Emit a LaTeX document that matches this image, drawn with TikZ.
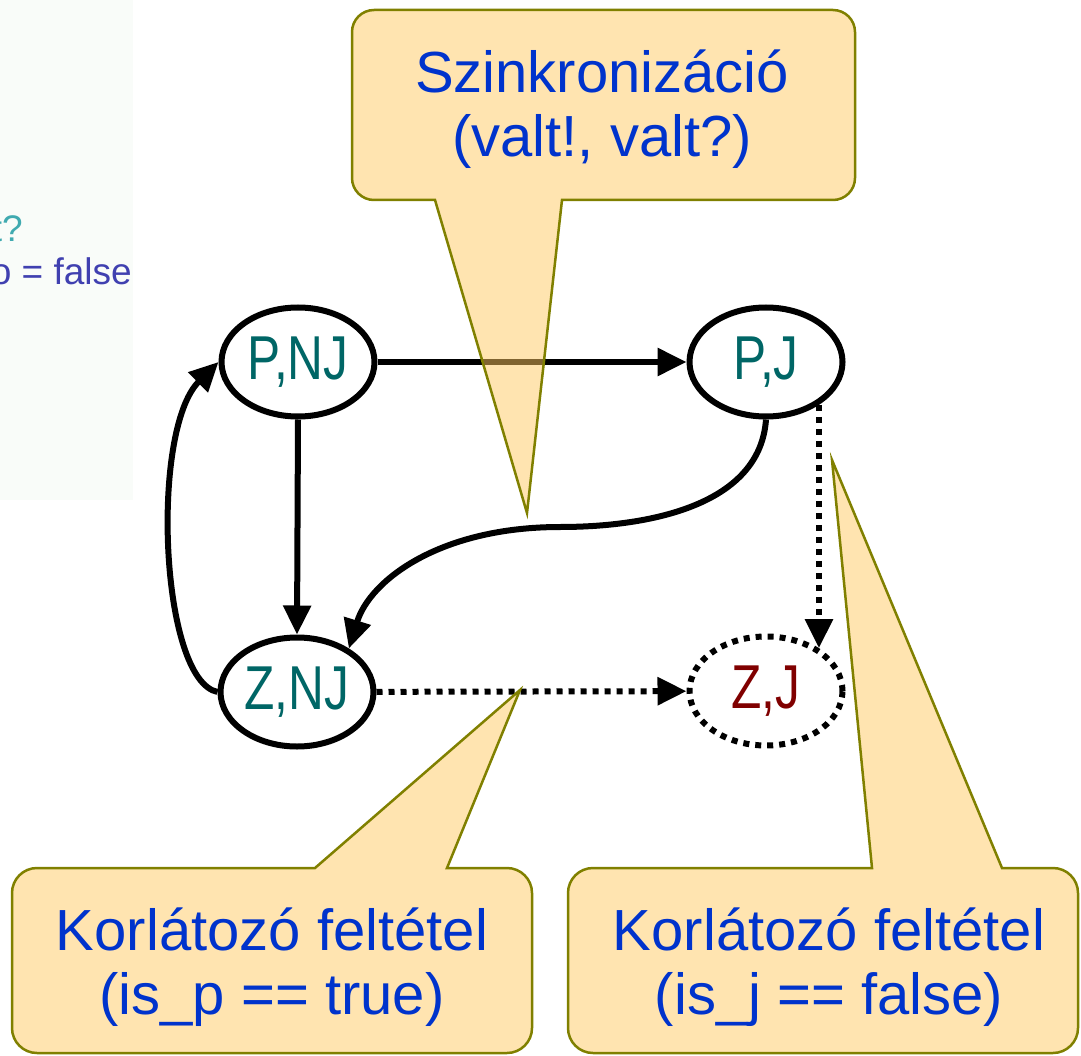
\documentclass[tikz,border=0pt]{standalone}
\usepackage{fontspec}
\usepackage{graphicx}
\setmainfont{Liberation Sans}
\usetikzlibrary{shapes.geometric,arrows.meta}
\definecolor{teal1}{RGB}{0,102,102}
\definecolor{dred}{RGB}{128,0,0}
\definecolor{cblue}{RGB}{0,51,204}
\definecolor{olive1}{RGB}{128,128,0}
\definecolor{cfill}{RGB}{255,201,97}
\definecolor{panelc}{RGB}{249,252,249}
\definecolor{qteal}{RGB}{64,170,176}
\definecolor{qblue}{RGB}{64,64,176}
\newcommand{\stxt}[1]{\scalebox{0.8}[1]{#1}}
\begin{document}
\begin{tikzpicture}[x=1pt,y=-1pt,
 state/.style={ellipse,draw,line width=6pt,minimum width=153pt,minimum height=109pt,inner sep=0pt,fill=white,text=teal1,font=\fontsize{62}{62}\selectfont},
 arr/.style={line width=6pt,-{Triangle[length=29pt,width=27pt]}},
 dotline/.style={dash pattern=on 6pt off 6pt},
 callout/.style={draw=olive1,line width=2.5pt,fill=cfill,fill opacity=0.5,line join=miter},
 ctext/.style={text=cblue,font=\fontsize{58}{64}\selectfont,anchor=base,inner sep=0pt},
 ptext/.style={anchor=base east,inner sep=0pt,font=\fontsize{37}{37}\selectfont},
]
\useasboundingbox (0,0) rectangle (1081,1056);
% left background panel
\begin{scope}
\clip (0,0) rectangle (133,500);
\fill[panelc] (0,0) rectangle (133,500);
\node[ptext,text=qteal] (q1) at (23,242) {t?};
\node[ptext,text=qblue] (q2) at (132,285) {o = false};
\end{scope}
% states
\node[state] (pnj) at (298,362) {\stxt{P,NJ}};
\node[state] (pj) at (766,362) {\stxt{P,J}};
\node[state] (znj) at (297,692) {\stxt{Z,NJ}};
\node[state,dotline,text=dred] (zj) at (766,691) {\stxt{Z,J}};
% transitions
\draw[arr] (pnj) -- (pj);
\draw[arr] (pnj.south) -- (znj.north);
\draw[arr] (pj.south) .. controls (760,505) and (650,527) .. (560,527) .. controls (440,527) and (370,580) .. (znj.40);
\draw[arr] (znj.west) .. controls (160,680) and (150,430) .. (pnj.west);
\draw[arr,dotline] (znj) -- (zj);
\draw[arr,dotline] (pj.-39) -- (zj.39);
% callouts
\draw[callout] (435,200) -- (527,513) -- (562,200) -- (833,200) arc[start angle=270,end angle=360,radius=22pt] -- (855,32) arc[start angle=0,end angle=90,radius=22pt] -- (374,10) arc[start angle=90,end angle=180,radius=22pt] -- (352,178) arc[start angle=180,end angle=270,radius=22pt] -- cycle;
\draw[callout] (447,868) -- (520,690) -- (315,868) -- (37,868) arc[start angle=90,end angle=180,radius=25pt] -- (12,1028) arc[start angle=180,end angle=270,radius=25pt] -- (507,1053) arc[start angle=270,end angle=360,radius=25pt] -- (532,893) arc[start angle=0,end angle=90,radius=25pt] -- cycle;
\draw[callout] (1002,868) -- (832,460) -- (872,868) -- (593,868) arc[start angle=90,end angle=180,radius=25pt] -- (568,1028) arc[start angle=180,end angle=270,radius=25pt] -- (1053,1053) arc[start angle=270,end angle=360,radius=25pt] -- (1078,893) arc[start angle=0,end angle=90,radius=25pt] -- cycle;
\node[ctext] (s1) at (602,93) {Szinkronizáció};
\node[ctext] (s2) at (602,157) {(valt!, valt?)};
\node[ctext] (k1) at (272,950) {Korlátozó feltétel};
\node[ctext] (k2) at (272,1014) {(is\_p == true)};
\node[ctext] (k3) at (829,950) {Korlátozó feltétel};
\node[ctext] (k4) at (829,1014) {(is\_j == false)};
\end{tikzpicture}
\end{document}
